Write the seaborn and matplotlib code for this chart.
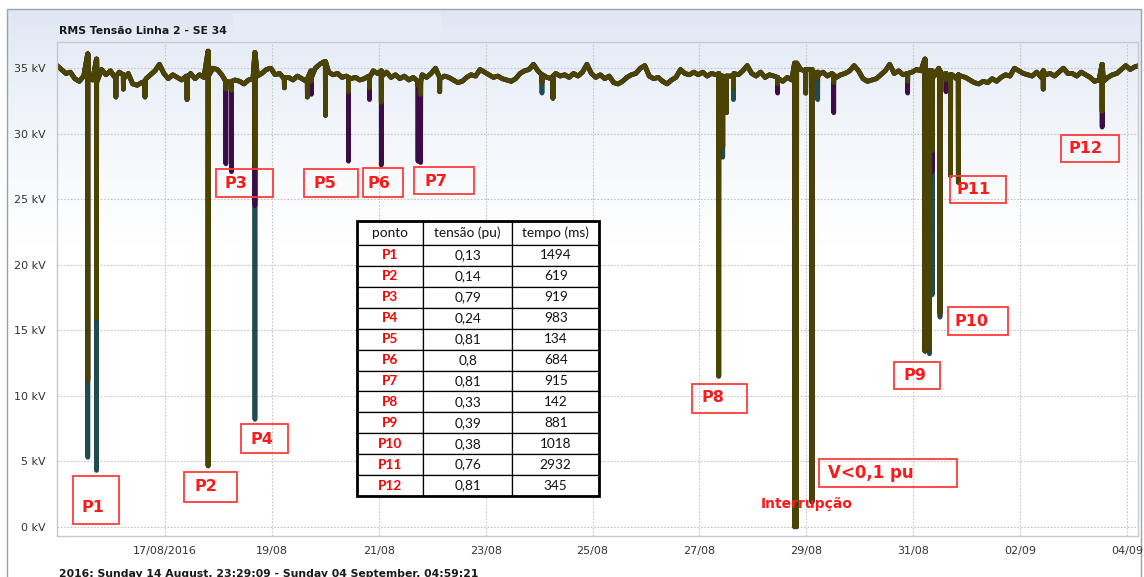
import numpy as np
import pandas as pd
import matplotlib
matplotlib.use("Agg")
import matplotlib.pyplot as plt
import seaborn as sns
from matplotlib.patches import Rectangle

# ---------------- data ----------------
inicio = "2016-08-14 23:29:09"
fim = "2016-09-04 04:59:21"

# RMS voltage baseline (kV), one reading every 2 hours from the start
base_kv = [
    35.2, 34.9, 34.6, 34.7, 34.2, 34.0, 34.4, 34.3, 34.1, 34.0, 34.9, 34.5,
    34.8, 34.3, 34.7, 34.2, 34.6, 33.8, 33.7, 33.9, 34.2, 34.5, 34.8, 35.3,
    34.6, 34.2, 34.5, 34.3, 34.1, 34.4, 34.6, 34.2, 34.5, 34.3, 34.4, 35.0,
    34.9, 34.5, 34.0, 33.9, 34.1, 34.0, 33.8, 34.1, 34.2, 34.4, 34.6, 34.9,
    35.0, 34.5, 34.6, 34.2, 34.3, 34.1, 34.4, 34.2, 34.0, 34.8, 35.0, 35.3,
    35.5, 34.7, 34.5, 34.6, 34.3, 34.4, 34.2, 34.3, 34.1, 34.2, 34.4, 34.8,
    34.6, 34.4, 34.7, 34.3, 34.5, 34.2, 34.4, 34.1, 34.3, 34.0, 34.5, 34.3,
    34.6, 35.0, 34.2, 34.4, 34.3, 34.1, 33.9, 34.0, 34.3, 34.5, 34.4, 34.9,
    34.7, 34.5, 34.3, 34.4, 34.2, 34.1, 34.0, 34.2, 34.6, 34.8, 34.9, 35.3,
    34.8, 34.5, 34.3, 34.2, 34.6, 34.4, 34.5, 34.3, 34.6, 34.4, 34.7, 35.3,
    34.6, 34.3, 34.5, 34.2, 34.4, 33.9, 33.8, 34.0, 34.3, 34.5, 34.6, 35.0,
    35.2, 34.4, 34.2, 34.3, 34.0, 33.8, 34.1, 34.3, 34.9, 34.6, 34.5, 34.7,
    34.5, 34.7, 34.4, 34.6, 34.5, 34.3, 34.2, 34.4, 34.6, 34.5, 34.8, 35.2,
    34.6, 34.4, 34.7, 34.3, 34.5, 34.4, 34.2, 34.0, 34.3, 34.1, 34.6, 34.9,
    34.8, 34.9, 34.6, 34.5, 34.7, 34.4, 34.6, 34.3, 34.5, 34.6, 34.8, 35.2,
    34.8, 34.2, 34.0, 34.1, 34.2, 34.5, 34.8, 35.3, 34.6, 34.8, 34.5, 34.6,
    34.7, 34.9, 34.8, 34.6, 34.5, 34.4, 35.0, 34.4, 34.3, 34.5, 34.2, 34.4,
    34.3, 34.1, 33.9, 33.8, 34.0, 33.9, 34.2, 34.0, 34.3, 34.5, 34.4, 35.0,
    34.8, 34.6, 34.5, 34.4, 34.7, 34.3, 34.5, 34.6, 34.4, 34.7, 35.0, 34.6,
    34.6, 34.4, 34.7, 34.5, 34.3, 34.0, 34.1, 34.0, 34.3, 34.5, 34.6, 34.9,
    35.2, 34.9, 35.1, 35.2,
]

# voltage sag events: time, level just before, minimum per phase (kV), duration (min)
evento_hora = [
    "2016-08-15 13:19", "2016-08-15 17:15", "2016-08-16 01:56", "2016-08-16 05:18",
    "2016-08-16 15:00", "2016-08-17 09:54", "2016-08-17 19:22", "2016-08-18 03:20",
    "2016-08-18 05:52", "2016-08-18 16:23", "2016-08-19 05:36", "2016-08-19 15:56",
    "2016-08-19 17:44", "2016-08-20 00:03", "2016-08-20 10:24", "2016-08-20 19:51",
    "2016-08-21 01:08", "2016-08-21 17:37", "2016-08-21 18:49", "2016-08-22 03:22",
    "2016-08-24 01:18", "2016-08-24 06:14", "2016-08-27 08:41", "2016-08-27 10:29",
    "2016-08-27 12:10", "2016-08-27 15:19", "2016-08-28 11:07", "2016-08-28 19:13",
    "2016-08-28 23:44", "2016-08-29 02:34", "2016-08-29 05:08", "2016-08-29 12:20",
    "2016-08-30 21:32", "2016-08-31 05:18", "2016-08-31 07:21", "2016-08-31 08:33",
    "2016-08-31 12:04", "2016-08-31 14:45", "2016-08-31 16:48", "2016-08-31 20:18",
    "2016-09-02 10:26", "2016-09-03 12:53",
]
evento_topo = [
    36.1, 35.7, 34.4, 34.5, 34.0, 34.3, 36.3, 34.0, 34.0, 36.2, 34.3, 34.2,
    34.3, 35.5, 34.3, 34.3, 34.8, 34.0, 34.0, 34.3, 34.5, 34.4, 34.6, 34.4,
    34.4, 34.4, 34.3, 35.4, 34.9, 34.9, 34.7, 34.5, 34.6, 35.7, 34.8, 34.8,
    34.8, 34.6, 34.5, 34.5, 34.8, 35.3,
]
evento_fase_a = [
    11.2, 15.9, 32.8, 33.4, 32.8, 32.6, 4.65, 33.4, 33.3, 27.5, 33.5, 32.8,
    34.0, 31.4, 33.2, 33.5, 32.4, 33.7, 33.0, 33.2, 33.9, 32.7, 11.5, 29.0,
    31.6, 33.5, 33.8, 0.0, 33.1, 1.9, 34.2, 33.9, 34.0, 13.4, 13.6, 28.7,
    16.3, 34.1, 26.8, 26.3, 33.4, 31.7,
]
evento_fase_b = [
    11.2, 15.9, 32.8, 33.4, 32.8, 32.6, 4.65, 27.7, 27.1, 24.5, 33.5, 32.8,
    33.0, 31.4, 27.9, 32.6, 27.6, 27.9, 27.8, 33.2, 33.9, 32.7, 11.5, 29.0,
    31.6, 33.5, 33.1, 0.0, 33.1, 1.9, 34.2, 31.6, 33.1, 13.4, 13.6, 27.1,
    16.3, 33.2, 26.8, 26.3, 33.4, 30.5,
]
evento_fase_c = [
    5.3, 4.3, 32.8, 33.4, 32.8, 32.6, 4.65, 33.4, 33.3, 8.2, 33.5, 32.8,
    34.0, 31.4, 33.2, 33.5, 32.4, 33.7, 33.7, 33.2, 33.1, 32.7, 11.5, 28.2,
    31.6, 32.6, 33.8, 0.0, 33.1, 1.9, 32.6, 33.9, 34.0, 13.4, 13.2, 17.7,
    16.0, 34.1, 26.8, 26.3, 33.4, 31.7,
]
evento_duracao_min = [0] * 27 + [50] + [0] * 14

fases = ["Fase A", "Fase B", "Fase C"]
cores_fases = {"Fase A": "#4a4302", "Fase B": "#3c0c46", "Fase C": "#1e4c4f"}

y_ticks = [0, 5, 10, 15, 20, 25, 30, 35]
y_labels = ["0 kV", "5 kV", "10 kV", "15 kV", "20 kV", "25 kV", "30 kV", "35 kV"]
x_ticks = ["2016-08-17", "2016-08-19", "2016-08-21", "2016-08-23", "2016-08-25",
           "2016-08-27", "2016-08-29", "2016-08-31", "2016-09-02", "2016-09-04"]
x_labels = ["17/08/2016", "19/08", "21/08", "23/08", "25/08",
            "27/08", "29/08", "31/08", "02/09", "04/09"]

tabela_cabecalho = ["ponto", "tensão (pu)", "tempo (ms)"]
tabela_ponto = ["P1", "P2", "P3", "P4", "P5", "P6", "P7", "P8", "P9", "P10", "P11", "P12"]
tabela_tensao = ["0,13", "0,14", "0,79", "0,24", "0,81", "0,8", "0,81", "0,33", "0,39", "0,38", "0,76", "0,81"]
tabela_tempo = ["1494", "619", "919", "983", "134", "684", "915", "142", "881", "1018", "2932", "345"]

titulo = "RMS Tensão Linha 2 - SE 34"
rodape = "2016: Sunday 14 August, 23:29:09 - Sunday 04 September, 04:59:21"

# ---------------- build long table ----------------
t_base = pd.date_range(inicio, periods=len(base_kv), freq="2h")
minimos = {"Fase A": evento_fase_a, "Fase B": evento_fase_b, "Fase C": evento_fase_c}
linhas = []
for fase in fases:
    for t, v in zip(t_base, base_kv):
        linhas.append((fase, t, v))
    for i, h in enumerate(evento_hora):
        t = pd.Timestamp(h)
        d = pd.Timedelta(minutes=evento_duracao_min[i] / 2)
        e = pd.Timedelta(minutes=4)
        linhas.append((fase, t - d - e, evento_topo[i]))
        linhas.append((fase, t - d, minimos[fase][i]))
        linhas.append((fase, t + d, minimos[fase][i]))
        linhas.append((fase, t + d + e, evento_topo[i]))
df = pd.DataFrame(linhas, columns=["fase", "tempo", "kV"]).sort_values(["fase", "tempo"], kind="stable")

# ---------------- figure ----------------
W, H = 1144, 577
fig = plt.figure(figsize=(W / 100, H / 100), dpi=100)
fig.patch.set_facecolor("white")

def fx(x):
    return x / W

def fy(y):
    return 1 - y / H

bg = fig.add_axes([0, 0, 1, 1], zorder=-10)
bg.set_xlim(0, W)
bg.set_ylim(H, 0)
bg.axis("off")
topc = np.array([0.872, 0.906, 0.953])
r = np.clip((np.arange(H) - 9) / 230.0, 0, 1) ** 0.7
img = topc[None, :] * (1 - r[:, None]) + r[:, None]
bg.imshow(img[:, None, :], aspect="auto", extent=[7, 1141, H, 9], interpolation="bilinear")
bg.add_patch(Rectangle((233, 13), 208, 32, facecolor="#e6ecf6", edgecolor="none"))
bg.add_patch(Rectangle((7, 9), 1134, 580, facecolor="none", edgecolor="#9aa3ad", lw=1.0))
bg.set_xlim(0, W)
bg.set_ylim(H, 0)

ax = fig.add_axes([fx(57), fy(536), fx(1138) - fx(57), fy(42) - fy(536)])
ax.set_facecolor("none")
sns.lineplot(data=df, x="tempo", y="kV", hue="fase", hue_order=["Fase C", "Fase B", "Fase A"],
             palette=cores_fases, estimator=None, sort=False, legend=False,
             linewidth=3.4, ax=ax)
ax.set_xlim(pd.Timestamp(inicio), pd.Timestamp(fim))
ax.set_ylim(-0.7, 37.0)
ax.set_yticks(y_ticks)
ax.set_yticklabels(y_labels)
ax.set_xticks(pd.to_datetime(x_ticks))
ax.set_xticklabels(x_labels)
ax.set_xlabel("")
ax.set_ylabel("")
ax.tick_params(axis="both", length=0, labelsize=8, labelcolor="#333333")
ax.tick_params(axis="y", pad=8)
ax.tick_params(axis="x", pad=7)
ax.grid(True, color="#c4c4c4", linestyle=(0, (1.5, 1.5)), linewidth=0.8)
ax.set_axisbelow(True)
for s in ax.spines.values():
    s.set_color("#c3cad4")
    s.set_linewidth(1.0)

fig.text(fx(59), fy(31), titulo, fontsize=7.8, fontweight="bold", color="#1a1a1a", va="center", ha="left")
fig.text(fx(59), fy(574), rodape, fontsize=7.8, fontweight="bold", color="#1a1a1a", va="center", ha="left")

# ---------------- annotation boxes ----------------
vermelho = "#ff1a1a"
caixas = [
    ((72.7, 475.7, 119.3, 524), "P1", (93, 508)),
    ((184, 472.3, 237.3, 502), "P2", (205.7, 486.5)),
    ((215.7, 169.3, 272.7, 196.7), "P3", (235.7, 183.5)),
    ((240.7, 424.3, 287.7, 453), "P4", (261.7, 439)),
    ((303.7, 169.3, 358.3, 197), "P5", (325, 183.5)),
    ((362.7, 168.3, 403.3, 197), "P6", (379, 183.5)),
    ((414.3, 166.7, 474.3, 194.3), "P7", (436, 181.7)),
    ((691.7, 384.3, 746.7, 413.3), "P8", (712.7, 398)),
    ((894, 362, 940, 389), "P9", (915, 375.5)),
    ((948, 307, 1008, 335), "P10", (972, 321)),
    ((950, 176, 1006, 202.7), "P11", (973.3, 189.5)),
    ((1061, 135.3, 1118.7, 161.7), "P12", (1086, 148.5)),
]
for (x0, y0, x1, y1), txt, (tx, ty) in caixas:
    fig.patches.append(Rectangle((fx(x0), fy(y1)), fx(x1) - fx(x0), fy(y0) - fy(y1),
                                 transform=fig.transFigure, facecolor="none",
                                 edgecolor="#ff3b3b", lw=1.3, zorder=5))
    fig.text(fx(tx), fy(ty), txt, fontsize=11.5, fontweight="bold", color=vermelho,
             ha="center", va="center", zorder=6)

fig.patches.append(Rectangle((fx(819), fy(487.3)), fx(957.3) - fx(819), fy(458.7) - fy(487.3),
                             transform=fig.transFigure, facecolor="none",
                             edgecolor="#ff3b3b", lw=1.3, zorder=5))
fig.text(fx(828), fy(473), "V<0,1 pu", fontsize=12, fontweight="bold", color=vermelho,
         ha="left", va="center", zorder=6)
fig.text(fx(761), fy(504), "Interrupção", fontsize=10, fontweight="bold", color=vermelho,
         ha="left", va="center", zorder=6)

# ---------------- table ----------------
tax = fig.add_axes([fx(357), fy(496), fx(599) - fx(357), fy(221) - fy(496)], zorder=4)
tax.axis("off")
celulas = [list(r) for r in zip(tabela_ponto, tabela_tensao, tabela_tempo)]
tab = tax.table(cellText=celulas, colLabels=tabela_cabecalho, cellLoc="center",
                colWidths=[66, 89.4, 86.6], bbox=[0, 0, 1, 1])
tab.auto_set_font_size(False)
for (i, j), c in tab.get_celld().items():
    c.set_edgecolor("black")
    c.set_linewidth(0.9)
    c.set_facecolor("white")
    c.set_height(24 if i == 0 else 20.9)
    c.get_text().set_fontsize(9.8)
    c.get_text().set_fontfamily(["Lato", "DejaVu Sans"])
    if i > 0 and j == 0:
        c.get_text().set_color("#ff0000")
        c.get_text().set_fontweight("bold")
    else:
        c.get_text().set_color("#111111")
tax.add_patch(Rectangle((0, 0), 1, 1, transform=tax.transAxes, facecolor="none",
                        edgecolor="black", lw=2.0, zorder=10, clip_on=False))

fig.savefig("out.png", dpi=100)
